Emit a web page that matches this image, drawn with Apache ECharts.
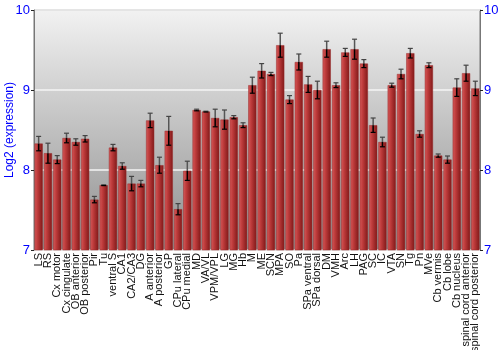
<!DOCTYPE html>
<html>
<head>
<meta charset="utf-8">
<script src="https://cdn.jsdelivr.net/npm/echarts@6/dist/echarts.min.js"></script>
<style>html,body{margin:0;padding:0;background:#fff;}#c{width:500px;height:350px;}</style>
</head>
<body>
<div id="c"></div>
<script>
var categories = ["LS","RS","Cx motor","Cx cingulate","OB anterior","OB posterior","Pir","Tu","ventral S","CA1","CA2/CA3","DG","A anterior","A posterior","GP","CPu lateral","CPu medial","MD","VA/VL","VPM/VPL","LG","MG","Hb","M","ME","SCN","MPA","SO","Pa","SPa ventral","SPa dorsal","DM","VMH","Arc","LH","PAG","SC","IC","VTA","SN","Tg","Pn","MVe","Cb vermis","Cb lobe","Cb nucleus","spinal cord anterior","spinal cord posterior"];
var values = [8.33,8.21,8.13,8.40,8.35,8.39,7.63,7.81,8.28,8.05,7.83,7.83,8.62,8.06,8.49,7.51,7.99,8.75,8.73,8.65,8.63,8.66,8.56,9.06,9.24,9.20,9.56,8.88,9.35,9.07,9.00,9.51,9.06,9.47,9.51,9.33,8.56,8.35,9.06,9.20,9.46,8.45,9.31,8.18,8.13,9.03,9.21,9.02];
var errors = [0.09,0.125,0.05,0.06,0.04,0.04,0.04,0.005,0.04,0.04,0.09,0.04,0.09,0.10,0.18,0.07,0.12,0.01,0.005,0.11,0.12,0.02,0.03,0.10,0.09,0.02,0.15,0.05,0.10,0.10,0.11,0.10,0.03,0.05,0.125,0.05,0.09,0.06,0.025,0.06,0.06,0.04,0.03,0.02,0.045,0.11,0.10,0.09];
var yTicks = [7,8,9,10];

var chart = echarts.init(document.getElementById('c'), null, {renderer:'canvas'});
var errData = values.map(function(v,i){return [i, v, errors[i]];});
var blue = '#0000ff';
chart.setOption({
  animation:false,
  grid:{left:34,right:20,top:10,bottom:100,show:true,borderColor:'#777',borderWidth:1,
    containLabel:false,outerBoundsMode:'none',
    backgroundColor:new echarts.graphic.LinearGradient(0,0,0,1,[{offset:0,color:'#f2f2f2'},{offset:1,color:'#8e8e8e'}])},
  xAxis:{type:'category',data:categories,
    axisLine:{show:false},axisTick:{show:false},
    axisLabel:{interval:0,rotate:90,fontSize:11,color:'#111',fontFamily:'Liberation Sans',margin:3}},
  yAxis:[
    {type:'value',min:yTicks[0],max:yTicks[yTicks.length-1],interval:1,
     name:'Log2 (expression)',nameLocation:'middle',nameGap:18,nameMoveOverlap:false,
     nameTextStyle:{color:blue,fontSize:12,fontFamily:'Liberation Sans'},
     axisLine:{show:true,lineStyle:{color:'#777'}},axisTick:{show:true,length:3,lineStyle:{color:'#222'}},
     axisLabel:{color:blue,fontSize:13,fontFamily:'Liberation Sans',margin:4},
     splitLine:{show:true,lineStyle:{color:'#f4f4f4',width:1.5}}},
    {type:'value',min:yTicks[0],max:yTicks[yTicks.length-1],interval:1,position:'right',
     axisLine:{show:true,lineStyle:{color:'#777'}},axisTick:{show:true,length:3,lineStyle:{color:'#222'}},
     axisLabel:{color:blue,fontSize:13,fontFamily:'Liberation Sans',margin:4},
     splitLine:{show:false}}
  ],
  series:[
    {type:'bar',data:values,barWidth:'88%',
     itemStyle:{color:new echarts.graphic.LinearGradient(0,0,1,0,[{offset:0,color:'#d45a5a'},{offset:0.35,color:'#bf3c3c'},{offset:1,color:'#801818'}]),
       borderColor:'#9a2a2a',borderWidth:0.5}},
    {type:'custom',data:errData,z:5,
     renderItem:function(params,api){
       var x=api.value(0),v=api.value(1),e=api.value(2);
       var pt=api.coord([x,v+e]),pm=api.coord([x,v]),pb=api.coord([x,v-e]);
       var hw=2.5;
       return {type:'group',children:[
         {type:'line',shape:{x1:pt[0],y1:pt[1],x2:pm[0],y2:pm[1]},style:{stroke:'#555',lineWidth:1.5}},
         {type:'line',shape:{x1:pm[0],y1:pm[1],x2:pb[0],y2:pb[1]},style:{stroke:'#000',lineWidth:1.5}},
         {type:'line',shape:{x1:pt[0]-hw,y1:pt[1],x2:pt[0]+hw,y2:pt[1]},style:{stroke:'#444',lineWidth:1.2}},
         {type:'line',shape:{x1:pb[0]-hw,y1:pb[1],x2:pb[0]+hw,y2:pb[1]},style:{stroke:'#000',lineWidth:1.2}}
       ]};
     }}
  ]
});
</script>
</body>
</html>
